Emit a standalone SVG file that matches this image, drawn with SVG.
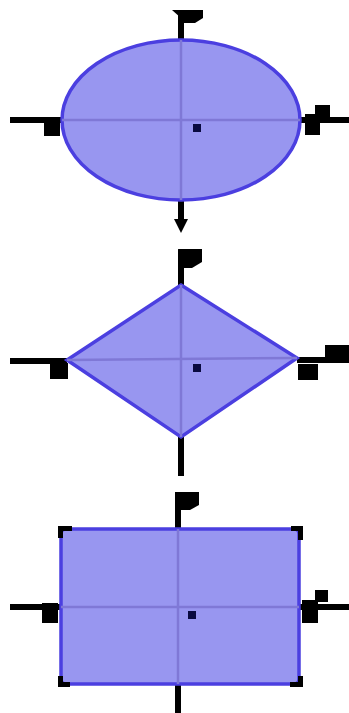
<svg xmlns="http://www.w3.org/2000/svg" width="349" height="713" viewBox="0 0 349 713">
<style>
.shape{fill:#9896f0;stroke:#4b3fe0;stroke-width:3.5}
.axis{stroke:#7f78d6;stroke-width:2.5;fill:none}
.stub{stroke:#000;stroke-width:6;fill:none}
.mark{fill:#000}
.dot{fill:#0a0a40}
</style>
<defs>
<marker id="ah" markerWidth="2.4" markerHeight="2.4" refX="0.4" refY="1.2" orient="auto" markerUnits="strokeWidth"><path d="M0,0 L2.4,1.2 L0,2.4 z" fill="#000"/></marker>
</defs>
<rect width="349" height="713" fill="#fff"/>
<g id="connectors">
<line class="stub" x1="181" y1="12" x2="181" y2="40"/>
<path class="mark" d="M172,10 H203 V18 L195,23 H181 V18 Z"/>
<line class="stub" x1="10" y1="120" x2="62" y2="120"/>
<rect class="mark" x="44" y="118" width="16" height="18"/>
<line class="stub" x1="300" y1="120" x2="349" y2="120"/>
<path class="mark" d="M305,114 H315 V105 H330 V117 H320 V135 H305 Z"/>
<line class="stub" x1="181" y1="200" x2="181" y2="221" marker-end="url(#ah)"/>
<line class="stub" x1="181" y1="250" x2="181" y2="285"/>
<path class="mark" d="M178,249 H202 V262 L192,268 H181 Z"/>
<line class="stub" x1="10" y1="361" x2="67" y2="361"/>
<rect class="mark" x="50" y="363" width="18" height="16"/>
<line class="stub" x1="297" y1="360" x2="349" y2="360"/>
<path class="mark" d="M325,345 H349 V358 H325 Z M298,364 H318 V380 H298 Z"/>
<line class="stub" x1="181" y1="437" x2="181" y2="476"/>
<line class="stub" x1="178" y1="492" x2="178" y2="528"/>
<path class="mark" d="M175,492 H199 V505 L190,510 H178 Z"/>
<line class="stub" x1="10" y1="607" x2="60" y2="607"/>
<rect class="mark" x="42" y="603" width="16" height="20"/>
<line class="stub" x1="300" y1="607" x2="349" y2="607"/>
<path class="mark" d="M302,600 H315 V590 H328 V602 H318 V623 H302 Z"/>
<line class="stub" x1="178" y1="684" x2="178" y2="713"/>
</g>
<g id="ellipse">
<ellipse class="shape" cx="181" cy="120" rx="119" ry="80"/>
<line class="axis" x1="181" y1="40" x2="181" y2="200"/>
<line class="axis" x1="62" y1="120" x2="300" y2="120"/>
<rect class="dot" x="193" y="124" width="8" height="8"/>
</g>
<g id="diamond">
<polygon class="shape" points="181,285 297,358 181,437 67,360"/>
<line class="axis" x1="181" y1="285" x2="181" y2="437"/>
<line class="axis" x1="67" y1="360" x2="297" y2="358"/>
<rect class="dot" x="193" y="364" width="8" height="8"/>
</g>
<g id="rectangle">
<rect class="shape" x="61" y="529" width="238" height="155" rx="5"/>
<line class="axis" x1="178" y1="529" x2="178" y2="684"/>
<line class="axis" x1="61" y1="607" x2="299" y2="607"/>
<rect class="dot" x="188" y="611" width="8" height="8"/>
<path class="mark" d="M58,526 H72 V531 H63 V538 H58 Z M303,526 V540 H298 V531 H291 V526 Z M58,687 H70 V682 H63 V676 H58 Z M303,687 H290 V682 H298 V676 H303 Z"/>
</g>
</svg>
